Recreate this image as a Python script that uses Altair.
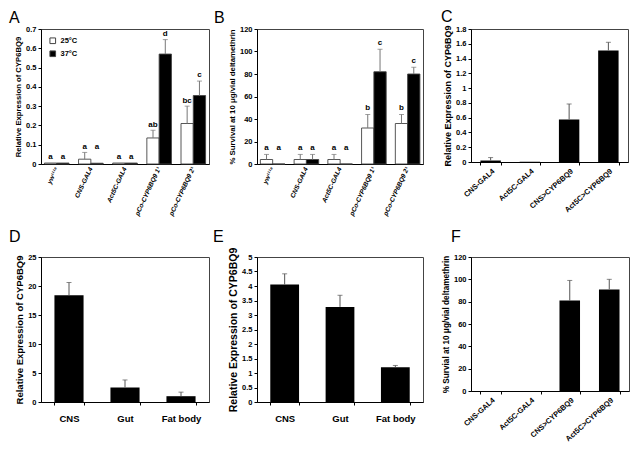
import altair as alt
import pandas as pd

FONT = "Liberation Sans"

# ---------------- Panel A data ----------------
a_groups = ["yw¹¹¹⁸", "CNS-GAL4", "Act5C-GAL4", "pCo-CYP6BQ9 1¹", "pCo-CYP6BQ9 2¹"]
temps = ["25°C", "37°C"]
a_25 = [0.005, 0.025, 0.005, 0.135, 0.21]
a_25_top = [0.0, 0.06, 0.0, 0.175, 0.30]
a_37 = [0.005, 0.004, 0.005, 0.57, 0.355]
a_37_top = [0.0, 0.0, 0.0, 0.645, 0.43]
a_let_25 = ["a", "a", "a", "ab", "bc"]
a_let_37 = ["a", "a", "a", "d", "c"]
a_lety_25 = [0.012, 0.062, 0.012, 0.178, 0.303]
a_lety_37 = [0.012, 0.062, 0.012, 0.648, 0.433]

# ---------------- Panel B data ----------------
b_25 = [4, 4, 4, 32, 36]
b_25_top = [8.5, 8.5, 8.5, 44, 44]
b_37 = [0, 4, 0, 82, 80]
b_37_top = [0, 8.5, 0, 102, 86]
b_let_25 = ["a", "a", "a", "b", "b"]
b_let_37 = ["a", "a", "a", "c", "c"]
b_lety_25 = [10, 10, 10, 45, 45]
b_lety_37 = [10, 10, 10, 103, 87]

# ---------------- Panel C data ----------------
c_cats = ["CNS-GAL4", "Act5C-GAL4", "CNS>CYP6BQ9", "Act5C>CYP6BQ9"]
c_vals = [0.02, 0.005, 0.575, 1.51]
c_tops = [0.06, 0.0, 0.785, 1.62]

# ---------------- Panel D / E data ----------------
tissues = ["CNS", "Gut", "Fat body"]
d_vals = [18.4, 2.5, 1.0]
d_tops = [20.6, 3.8, 1.7]
e_vals = [4.05, 3.28, 1.2]
e_tops = [4.42, 3.68, 1.26]

# ---------------- Panel F data ----------------
f_cats = ["CNS-GAL4", "Act5C-GAL4", "CNS>CYP6BQ9", "Act5C>CYP6BQ9"]
f_vals = [0, 0, 81, 91]
f_tops = [0, 0, 99, 100]

panel_letters = ["A", "B", "C", "D", "E", "F"]

EXPR_TITLE = "Relative Expression of CYP6BQ9"
ERR = "#777777"


def panel_label(letter, dx, dy):
    return alt.Chart(pd.DataFrame({"t": [letter]})).mark_text(
        fontSize=16, font=FONT, align="left", baseline="alphabetic",
        color="black").encode(text="t:N", x=alt.value(dx), y=alt.value(dy))


def y_axis(values, title, tsize, tweight="bold"):
    return alt.Axis(values=values, format=".2~f", title=title, titleFontSize=tsize,
                    titleFontWeight=tweight, titlePadding=3, labelFontSize=7.5,
                    labelFontWeight="bold", tickSize=3, labelPadding=2, grid=False,
                    labelOverlap=False)


def grouped(groups, v25, t25, v37, t37, l25, l37, ly25, ly37, ymax, yvals,
            ytitle, tsize, W, H, letter, dx, dy):
    rows = []
    for i, g in enumerate(groups):
        rows.append(dict(group=g, temp=temps[0], value=v25[i], top=t25[i],
                         letter=l25[i], ly=ly25[i]))
        rows.append(dict(group=g, temp=temps[1], value=v37[i], top=t37[i],
                         letter=l37[i], ly=ly37[i]))
    df = pd.DataFrame(rows)
    x = alt.X("group:N", sort=groups,
              scale=alt.Scale(paddingInner=0.28, paddingOuter=0.1),
              axis=alt.Axis(title=None, labelAngle=-65, labelFontSize=6.5,
                            labelFontStyle="italic", labelFontWeight="bold",
                            ticks=False, labelLimit=200, labelPadding=3))
    xo = alt.XOffset("temp:N", sort=temps,
                     scale=alt.Scale(paddingInner=0, paddingOuter=0))
    ysc = alt.Scale(domain=[0, ymax], nice=False)
    yax = y_axis(yvals, ytitle, tsize)
    base = alt.Chart(df)
    bars = base.mark_bar(stroke="#444444", strokeWidth=0.9).encode(
        x=x, xOffset=xo, y=alt.Y("value:Q", scale=ysc, axis=yax),
        fill=alt.Fill("temp:N", sort=temps,
                      scale=alt.Scale(domain=temps, range=["white", "black"]),
                      legend=alt.Legend(title=None, orient="top-left",
                                        offset=8, symbolType="square",
                                        symbolSize=32, symbolStrokeColor="#444444",
                                        symbolStrokeWidth=1, labelFontSize=7.5,
                                        labelFontWeight="bold", labelFont=FONT,
                                        rowPadding=2, padding=0)))
    err = base.transform_filter("datum.top > datum.value")
    rule = err.mark_rule(color=ERR, strokeWidth=1).encode(
        x=x, xOffset=xo, y=alt.Y("value:Q", scale=ysc, axis=yax), y2="top:Q")
    cap = err.mark_tick(color=ERR, thickness=1, size=5).encode(
        x=x, xOffset=xo, y=alt.Y("top:Q", scale=ysc, axis=yax))
    txt = base.mark_text(baseline="bottom", dy=-1, fontSize=8, fontWeight="bold",
                         font=FONT).encode(x=x, xOffset=xo,
                                           y=alt.Y("ly:Q", scale=ysc, axis=yax),
                                           text="letter:N")
    return alt.layer(bars, rule, cap, txt, panel_label(letter, dx, dy)).properties(
        width=W, height=H)


def simple(cats, vals, tops, ymax, yvals, ytitle, tsize, W, H, letter, dx, dy,
           rotated):
    df = pd.DataFrame(dict(cat=cats, value=vals, top=tops))
    if rotated:
        xaxis = alt.Axis(title=None, labelAngle=-42, labelFontSize=7.5,
                         labelFontWeight="bold", tickBand="extent", tickSize=3,
                         labelLimit=200, labelPadding=2)
    else:
        xaxis = alt.Axis(title=None, labelAngle=0, labelFontSize=9.5,
                         labelFontWeight="bold", tickBand="extent", tickSize=3,
                         labelPadding=8)
    x = alt.X("cat:N", sort=cats, scale=alt.Scale(paddingInner=0.48, paddingOuter=0.24),
              axis=xaxis)
    ysc = alt.Scale(domain=[0, ymax], nice=False)
    yax = y_axis(yvals, ytitle, tsize)
    base = alt.Chart(df)
    bars = base.mark_bar(color="black").encode(
        x=x, y=alt.Y("value:Q", scale=ysc, axis=yax))
    err = base.transform_filter("datum.top > datum.value")
    rule = err.mark_rule(color="#555555", strokeWidth=1).encode(
        x=x, y=alt.Y("value:Q", scale=ysc, axis=yax), y2="top:Q")
    cap = err.mark_tick(color="#555555", thickness=1, size=5).encode(
        x=x, y=alt.Y("top:Q", scale=ysc, axis=yax))
    ch = alt.layer(bars, rule, cap, panel_label(letter, dx, dy))
    return ch.properties(width=W, height=H)


A = grouped(a_groups, a_25, a_25_top, a_37, a_37_top, a_let_25, a_let_37,
            a_lety_25, a_lety_37, 0.7, [0, 0.1, 0.2, 0.3, 0.4, 0.5, 0.6, 0.7],
            EXPR_TITLE, 7.7, 168, 135, panel_letters[0], -32, -6)
B = grouped(a_groups, b_25, b_25_top, b_37, b_37_top, b_let_25, b_let_37,
            b_lety_25, b_lety_37, 120, [0, 20, 40, 60, 80, 100, 120],
            "% Survival at 10 μg/vial deltamethrin", 7.8, 166, 135,
            panel_letters[1], -43, -6)
C = simple(c_cats, c_vals, c_tops, 1.8,
           [0, 0.2, 0.4, 0.6, 0.8, 1, 1.2, 1.4, 1.6, 1.8], EXPR_TITLE, 9, 157, 133,
           panel_letters[2], -30, -7, True)
D = simple(tissues, d_vals, d_tops, 25, [0, 5, 10, 15, 20, 25], EXPR_TITLE, 9.5,
           168, 145, panel_letters[3], -32, -15, False)
E = simple(tissues, e_vals, e_tops, 5,
           [0, 0.5, 1, 1.5, 2, 2.5, 3, 3.5, 4, 4.5, 5], EXPR_TITLE, 10.5, 166, 145,
           panel_letters[4], -44, -15, False)
F = simple(f_cats, f_vals, f_tops, 120, [0, 20, 40, 60, 80, 100, 120],
           "% Survial at 10 μg/vial deltamethrin", 8.2, 158, 134,
           panel_letters[5], -20, -15, True)

chart = alt.concat(A, B, C, D, E, F, columns=3, bounds="flush",
                   spacing={"row": 93, "column": 48}).configure(
    font=FONT, padding={"left": 0, "top": 0, "right": 0, "bottom": 0}
).configure_view(stroke="#444444", strokeWidth=1).configure_axis(
    domainColor="black", tickColor="black", labelColor="black", titleColor="black",
    labelFont=FONT, titleFont=FONT
)

chart.save("out.html", embed_options={"renderer": "svg", "actions": False})
